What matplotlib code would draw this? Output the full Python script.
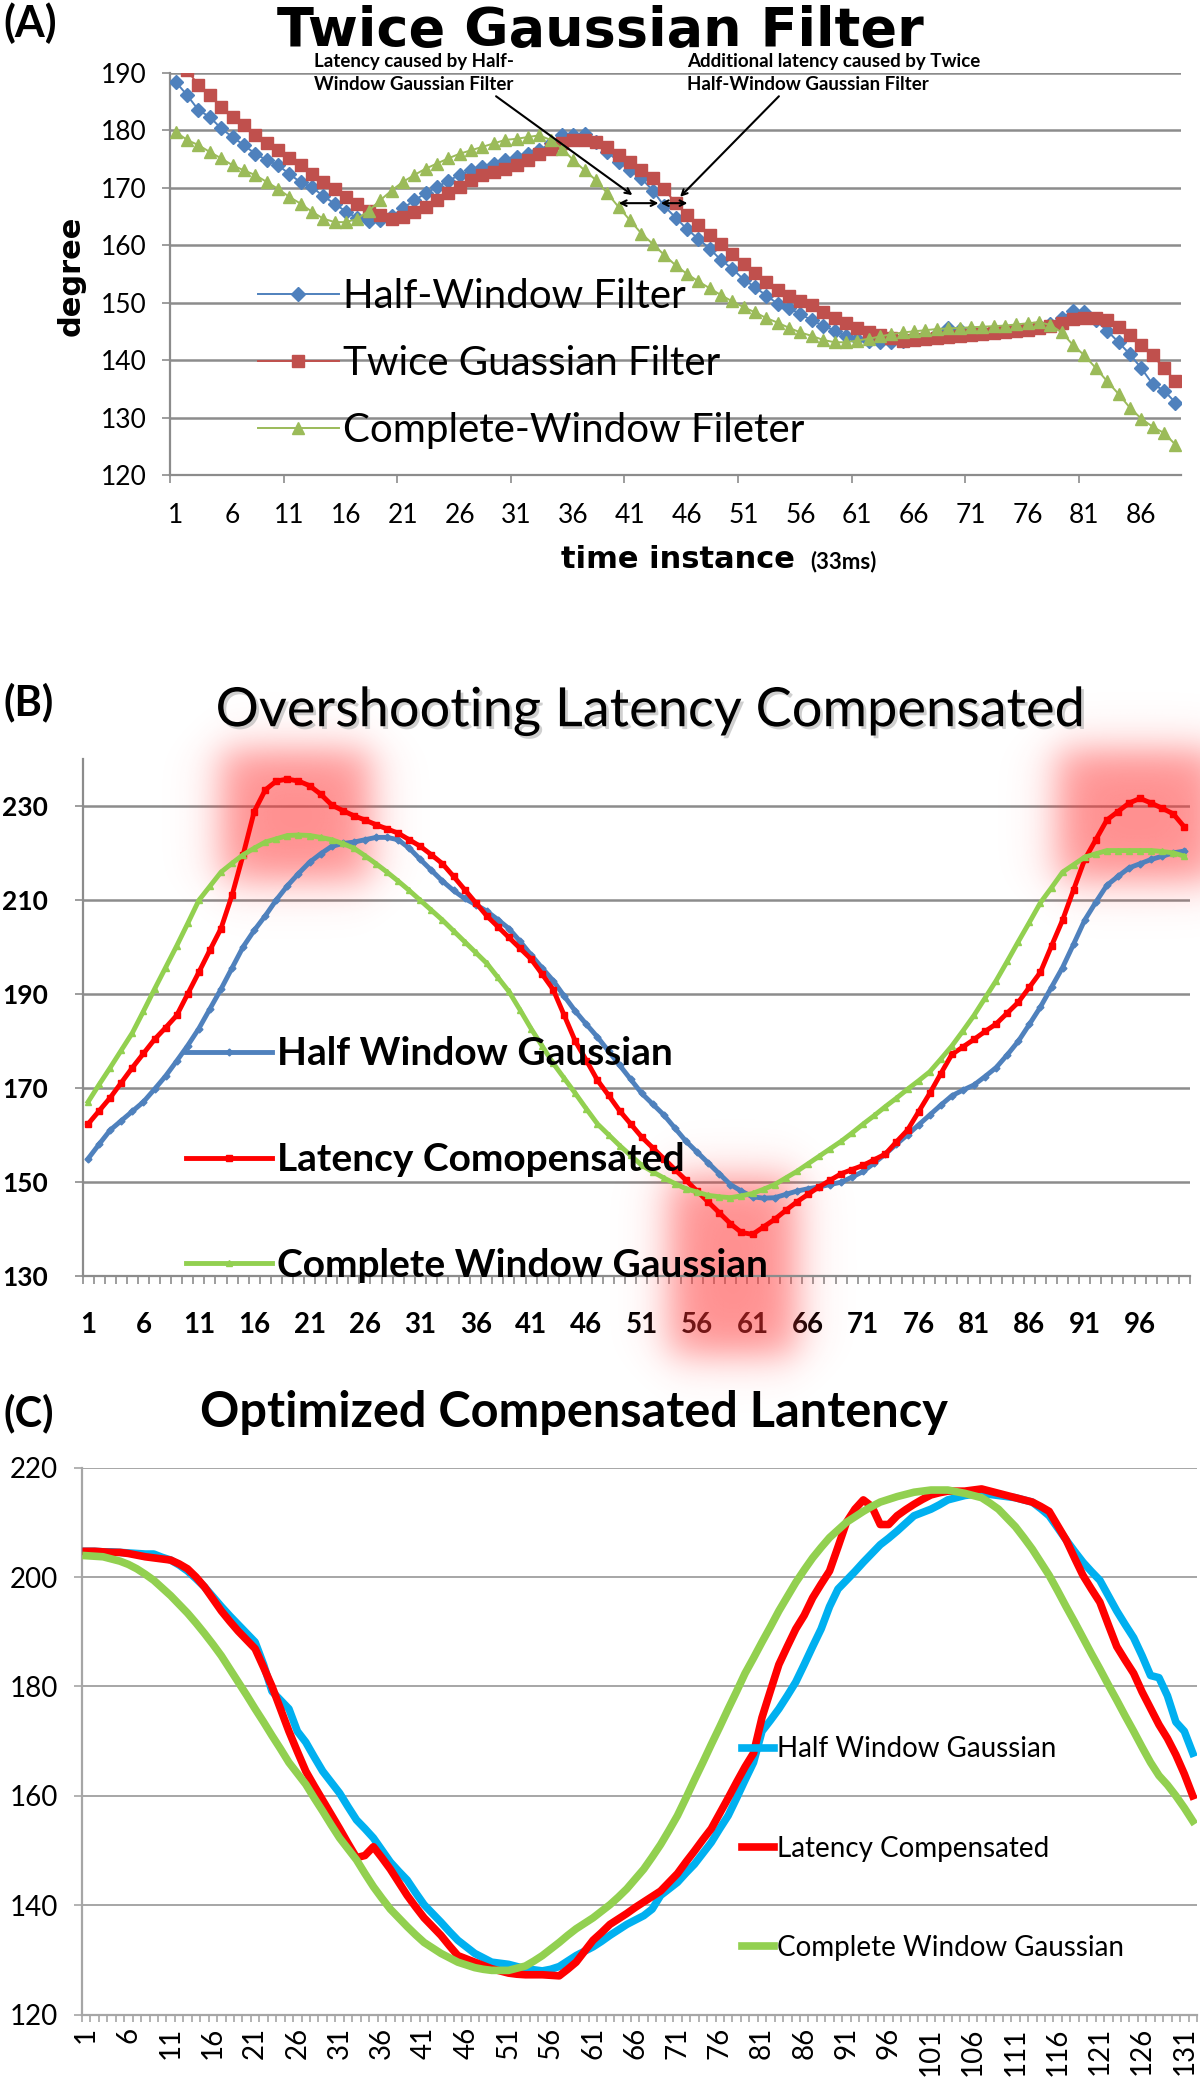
import matplotlib.pyplot as plt
import matplotlib.patheffects as pe
import numpy as np

plt.rcParams['font.family'] = ['Lato', 'DejaVu Sans']

# ---------------- data: panel A (Twice Gaussian Filter) ----------------
a_half = [188.4, 186.1, 183.5, 182.3, 180.3, 178.8, 177.4, 175.9, 174.8, 173.9,
          172.4, 170.9, 170.1, 168.5, 167.2, 165.8, 164.7, 164.2, 164.3, 165.0,
          166.4, 167.8, 169.0, 170.1, 171.2, 172.2, 173.0, 173.6, 174.2, 174.8,
          175.3, 175.9, 176.5, 177.7, 179.1, 179.1, 179.4, 178.0, 176.2, 174.5,
          173.0, 171.6, 169.5, 166.8, 164.8, 162.8, 161.1, 159.4, 157.4, 155.9,
          154.0, 152.7, 151.2, 149.8, 149.0, 148.0, 146.9, 146.0, 145.1, 144.2,
          143.7, 143.4, 143.1, 143.2, 143.4, 143.7, 144.0, 144.6, 145.6, 145.3,
          145.0, 145.0, 145.1, 145.2, 145.4, 145.6, 145.9, 146.3, 147.4, 148.5,
          148.3, 146.9, 145.1, 143.1, 141.0, 138.6, 135.8, 134.7, 132.6]
a_twice = [193.5, 190.5, 187.8, 186.1, 184.1, 182.3, 180.9, 179.1, 177.7, 176.5,
           175.1, 173.9, 172.4, 171.0, 169.8, 168.4, 167.2, 166.0, 165.2, 164.6,
           164.9, 165.8, 166.6, 167.8, 169.0, 170.1, 171.3, 172.2, 172.7, 173.3,
           173.9, 174.8, 175.9, 176.8, 177.7, 178.3, 178.3, 178.0, 177.1, 175.6,
           174.5, 173.0, 171.6, 169.8, 167.3, 165.2, 163.5, 161.7, 160.2, 158.5,
           156.8, 155.2, 153.6, 152.2, 151.2, 150.3, 149.5, 148.4, 147.3, 146.4,
           145.5, 144.9, 144.3, 143.8, 143.4, 143.5, 143.7, 143.9, 144.0, 144.2,
           144.3, 144.5, 144.7, 144.9, 145.0, 145.2, 145.5, 145.9, 146.5, 147.2,
           147.4, 147.4, 147.0, 145.7, 144.3, 142.7, 140.8, 138.6, 136.4]
a_complete = [179.7, 178.3, 177.4, 176.2, 175.1, 173.9, 173.0, 172.2, 171.0, 169.8,
              168.4, 167.2, 165.8, 164.6, 164.0, 164.0, 164.6, 166.0, 167.8, 169.5,
              171.0, 172.2, 173.3, 174.2, 175.1, 175.9, 176.5, 177.1, 177.7, 178.3,
              178.5, 178.8, 179.1, 178.3, 176.8, 174.8, 173.0, 171.3, 169.0, 166.6,
              164.3, 162.0, 160.2, 158.3, 156.5, 155.0, 153.7, 152.5, 151.3, 150.2,
              149.2, 148.3, 147.3, 146.5, 145.6, 144.8, 144.2, 143.5, 143.1, 143.1,
              143.4, 143.7, 144.1, 144.5, 144.8, 145.0, 145.2, 145.4, 145.5, 145.6,
              145.7, 145.8, 145.9, 146.0, 146.2, 146.4, 146.6, 146.1, 144.8, 142.6,
              140.8, 138.6, 136.3, 134.1, 131.7, 129.8, 128.4, 127.3, 125.3]
a_names = ['Half-Window Filter', 'Twice Guassian Filter', 'Complete-Window Fileter']

# ---------------- data: panel B (Overshooting Latency Compensated) ----------------
b_half = [154.9, 158.0, 161.0, 163.0, 165.0, 167.0, 169.7, 172.5, 175.7, 179.0,
          182.6, 186.8, 191.0, 195.5, 200.0, 203.5, 206.6, 210.0, 213.0, 215.6,
          218.0, 219.8, 221.4, 222.0, 222.3, 222.8, 223.3, 223.3, 222.8, 221.0,
          218.6, 216.3, 214.0, 212.0, 210.3, 209.0, 207.6, 205.8, 203.9, 201.2,
          198.3, 195.5, 192.8, 189.5, 186.3, 183.5, 180.8, 177.8, 174.8, 171.8,
          168.8, 166.5, 164.2, 161.4, 158.6, 156.3, 154.0, 151.7, 149.4, 148.0,
          146.8, 146.5, 146.6, 147.3, 148.0, 148.5, 148.9, 149.4, 149.9, 151.0,
          152.2, 154.0, 155.9, 158.0, 160.0, 162.1, 164.2, 166.3, 168.3, 169.5,
          170.6, 172.4, 174.3, 177.0, 179.9, 183.5, 187.2, 191.4, 195.6, 200.6,
          205.7, 209.5, 213.1, 215.0, 216.8, 217.7, 218.6, 219.3, 220.0, 220.4]
b_latency = [162.3, 165.1, 167.9, 171.1, 174.3, 177.3, 180.3, 182.8, 185.4, 190.0,
             194.6, 199.3, 203.9, 211.0, 219.6, 228.8, 233.4, 235.3, 235.7, 235.3,
             234.3, 232.5, 230.2, 229.0, 227.9, 227.0, 226.0, 225.1, 224.2, 222.8,
             221.4, 219.6, 217.7, 215.0, 212.2, 209.4, 206.6, 204.3, 202.0, 199.7,
             197.4, 194.2, 190.9, 185.4, 179.9, 175.8, 171.6, 168.4, 165.1, 162.3,
             159.5, 157.2, 154.9, 152.6, 150.3, 148.0, 145.7, 143.4, 141.1, 139.2,
             138.8, 140.4, 142.0, 143.9, 145.7, 147.3, 148.9, 150.3, 151.7, 152.6,
             153.5, 154.7, 155.9, 158.5, 161.0, 164.9, 168.8, 173.0, 177.1, 178.7,
             180.3, 182.0, 183.6, 185.9, 188.2, 191.4, 194.6, 200.2, 205.7, 212.2,
             218.6, 222.8, 227.0, 228.8, 230.6, 231.6, 230.6, 229.5, 228.3, 225.5]
b_complete = [167.0, 170.7, 174.3, 178.0, 181.7, 186.3, 191.0, 195.6, 200.2, 205.0,
              209.9, 212.9, 215.9, 217.8, 219.6, 221.0, 222.3, 223.0, 223.7, 223.8,
              223.7, 223.3, 222.8, 222.0, 221.0, 219.4, 217.7, 215.9, 214.0, 212.0,
              209.9, 207.8, 205.7, 203.4, 201.1, 198.8, 196.5, 193.5, 190.5, 186.6,
              182.6, 178.9, 175.2, 172.0, 168.8, 165.5, 162.3, 160.0, 157.7, 155.6,
              153.5, 152.1, 150.8, 149.6, 148.5, 147.8, 147.1, 146.8, 146.6, 147.0,
              147.5, 148.4, 149.4, 150.8, 152.2, 153.8, 155.4, 157.0, 158.6, 160.4,
              162.3, 164.1, 166.0, 167.8, 169.7, 171.5, 173.4, 176.1, 178.9, 182.1,
              185.4, 189.1, 192.8, 196.9, 201.1, 205.2, 209.4, 212.6, 215.9, 217.5,
              219.1, 219.8, 220.5, 220.5, 220.5, 220.5, 220.5, 220.3, 220.0, 219.3]
b_names = ['Half Window Gaussian', 'Latency Comopensated', 'Complete Window Gaussian']

# ---------------- data: panel C (Optimized Compensated Lantency) ----------------
c_half = [204.7, 204.7, 204.6, 204.6, 204.5, 204.4, 204.3, 204.2, 204.2, 203.6,
          203.1, 202.2, 201.1, 199.7, 198.2, 196.4, 194.6, 192.9, 191.3, 189.7,
          188.1, 184.0, 179.1, 177.5, 175.9, 171.8, 169.8, 167.1, 164.5, 162.5,
          160.5, 158.0, 155.6, 154.0, 152.3, 150.1, 147.9, 146.2, 144.6, 142.3,
          140.1, 138.5, 136.9, 135.2, 133.6, 132.4, 131.2, 130.4, 129.6, 129.4,
          129.2, 128.8, 128.4, 128.2, 128.0, 128.3, 128.8, 129.8, 130.8, 131.6,
          132.4, 133.4, 134.5, 135.5, 136.5, 137.3, 138.1, 139.3, 141.8, 143.0,
          144.2, 145.9, 147.5, 149.5, 151.5, 154.0, 156.4, 159.6, 162.9, 166.1,
          171.8, 173.8, 175.9, 178.3, 180.8, 184.0, 187.3, 190.5, 194.6, 197.8,
          199.4, 201.0, 202.7, 204.3, 205.9, 207.1, 208.4, 209.8, 211.2, 211.8,
          212.4, 213.2, 214.1, 214.5, 214.9, 215.1, 215.3, 215.1, 214.9, 214.7,
          214.5, 214.1, 213.7, 212.5, 211.2, 209.0, 206.8, 204.7, 202.7, 201.0,
          199.4, 196.6, 193.8, 191.3, 188.9, 185.6, 182.0, 181.6, 178.3, 173.5,
          171.8, 167.8]
c_latency = [204.7, 204.7, 204.6, 204.5, 204.5, 204.3, 204.0, 203.7, 203.5, 203.3,
             203.1, 202.4, 201.5, 200.0, 198.2, 196.0, 193.8, 191.9, 190.1, 188.5,
             186.9, 183.5, 180.0, 175.9, 171.8, 168.1, 164.5, 161.8, 159.2, 156.6,
             154.0, 151.3, 148.7, 149.1, 150.7, 148.7, 146.6, 144.2, 141.8, 139.7,
             137.7, 136.1, 134.5, 132.6, 130.8, 130.2, 129.6, 129.0, 128.4, 128.0,
             127.6, 127.4, 127.3, 127.3, 127.3, 127.2, 127.1, 128.3, 129.6, 131.6,
             133.6, 135.0, 136.5, 137.5, 138.5, 139.6, 140.6, 141.6, 142.6, 144.2,
             145.8, 147.9, 149.9, 152.0, 154.0, 156.8, 159.6, 162.5, 165.3, 167.8,
             174.3, 179.2, 184.0, 187.3, 190.5, 193.0, 196.2, 198.7, 201.1, 205.5,
             210.0, 212.4, 214.1, 212.9, 209.6, 209.6, 211.2, 212.3, 213.3, 214.2,
             215.0, 215.4, 215.7, 215.7, 215.7, 215.9, 216.1, 215.7, 215.3, 214.9,
             214.5, 214.1, 213.7, 212.9, 212.0, 209.4, 206.8, 203.5, 200.3, 197.8,
             195.4, 191.3, 187.3, 184.8, 182.4, 179.0, 176.0, 173.0, 170.5, 167.5,
             164.0, 160.0]
c_complete = [203.9, 203.8, 203.7, 203.3, 202.9, 202.3, 201.5, 200.5, 199.4, 198.0,
              196.6, 195.0, 193.4, 191.6, 189.7, 187.7, 185.6, 183.2, 180.8, 178.4,
              175.9, 173.5, 171.0, 168.6, 166.1, 164.1, 162.1, 159.6, 157.2, 154.7,
              152.3, 150.3, 148.3, 145.8, 143.4, 141.3, 139.3, 137.7, 136.1, 134.6,
              133.2, 132.2, 131.2, 130.4, 129.6, 129.1, 128.6, 128.3, 128.1, 128.1,
              128.1, 128.5, 128.9, 129.8, 130.8, 132.0, 133.2, 134.5, 135.7, 136.7,
              137.7, 138.9, 140.1, 141.5, 143.0, 144.8, 146.6, 148.8, 151.1, 153.7,
              156.4, 159.6, 162.9, 166.1, 169.4, 172.6, 175.9, 179.1, 182.4, 185.2,
              188.1, 190.9, 193.8, 196.4, 199.0, 201.3, 203.5, 205.4, 207.2, 208.6,
              210.0, 211.0, 212.0, 212.9, 213.7, 214.2, 214.7, 215.1, 215.5, 215.7,
              215.9, 215.9, 215.9, 215.6, 215.3, 214.9, 214.5, 213.5, 212.4, 210.8,
              209.2, 207.2, 205.1, 202.7, 200.3, 197.5, 194.6, 191.8, 188.9, 186.0,
              183.2, 180.3, 177.5, 174.6, 171.8, 168.9, 166.1, 163.7, 162.0, 160.0,
              157.8, 155.4]
c_names = ['Half Window Gaussian', 'Latency Compensated', 'Complete Window Gaussian']

GRID = '#8c8c8c'


def excel_axes(ax, n, step_label, grid_color, minor_every):
    ax.set_xlim(0.5, n + 0.5)
    for s in ['top', 'right']:
        ax.spines[s].set_visible(False)
    for s in ['left', 'bottom']:
        ax.spines[s].set_color(grid_color)
        ax.spines[s].set_linewidth(1.6)
    ax.yaxis.grid(True, color=grid_color, lw=1.8)
    ax.set_axisbelow(True)
    ax.set_xticks(np.arange(1, n + 1, step_label))
    ax.set_xticks(np.arange(0.5, n + 0.6, minor_every), minor=True)
    ax.tick_params(axis='x', which='major', length=0)
    ax.tick_params(axis='x', which='minor', length=6, width=1.2, color=grid_color)
    ax.tick_params(axis='y', length=6, width=1.2, color=grid_color)


def glow(ax, x0, x1, y0, y1, sx, sy):
    # soft red highlight patch (decoration, like the blurred marks in the source figure)
    xs = np.linspace(x0 - 3 * sx, x1 + 3 * sx, 240)
    ys = np.linspace(y0 - 3 * sy, y1 + 3 * sy, 240)
    gx = 0.5 * (np.tanh((xs - x0) / sx) - np.tanh((xs - x1) / sx))
    gy = 0.5 * (np.tanh((ys - y0) / sy) - np.tanh((ys - y1) / sy))
    img = np.zeros((len(ys), len(xs), 4))
    img[..., 0] = 1.0
    img[..., 1] = 0.2
    img[..., 2] = 0.2
    img[..., 3] = 0.55 * np.outer(gy, gx)
    ax.imshow(img, extent=[xs[0], xs[-1], ys[0], ys[-1]], origin='lower',
              aspect='auto', zorder=1.5, clip_on=False, interpolation='bilinear')


fig = plt.figure(figsize=(12, 20.77), dpi=100)

# ================= (A) =================
axA = fig.add_axes([0.1417, 0.7713, 0.8425, 0.1937])
nA = len(a_half)
xa = np.arange(1, nA + 1)
excel_axes(axA, nA, 5, GRID, 10)
axA.set_ylim(120, 190)
axA.set_yticks(np.arange(120, 191, 10))
axA.plot(xa, a_half, color='#4F81BD', marker='D', ms=7.5, lw=1.4, label=a_names[0], zorder=3)
axA.plot(xa, a_twice, color='#C0504D', marker='s', ms=8.5, lw=1.4, label=a_names[1], zorder=3)
axA.plot(xa, a_complete, color='#9BBB59', marker='^', ms=9, lw=1.4, label=a_names[2], zorder=3)
axA.tick_params(axis='x', which='major', labelsize=19, pad=20)
axA.tick_params(axis='y', labelsize=19, pad=11)
axA.legend(loc='upper left', bbox_to_anchor=(0.087, 0.49), frameon=False, fontsize=29,
           handlelength=2.0, handletextpad=0.1, labelspacing=0.75, borderpad=0,
           borderaxespad=0, numpoints=1)

axA.text(13.2, 193.4, 'Latency caused by Half-\nWindow Gaussian Filter', fontsize=13.5,
         fontweight='bold', va='top', ha='left', linespacing=1.4, clip_on=False)
axA.text(46.05, 193.4, 'Additional latency caused by Twice\nHalf-Window Gaussian Filter',
         fontsize=13.5, fontweight='bold', va='top', ha='left', linespacing=1.4, clip_on=False)
arw = dict(arrowstyle='->', color='black', lw=1.5, shrinkA=0, shrinkB=0)
axA.annotate('', xy=(41.2, 168.7), xytext=(29.2, 185.9), arrowprops=arw)
axA.annotate('', xy=(45.4, 168.4), xytext=(54.1, 185.9), arrowprops=arw)
dbl = dict(arrowstyle='<->', color='black', lw=1.5, shrinkA=0, shrinkB=0)
axA.annotate('', xy=(43.5, 167.3), xytext=(40.0, 167.3), arrowprops=dbl)
axA.annotate('', xy=(46.05, 167.3), xytext=(43.7, 167.3), arrowprops=dbl)

fig.text(0.003, 0.999, '(A)', fontsize=31, fontweight='bold', ha='left', va='top')
fig.text(0.5, 0.978, 'Twice Gaussian Filter', family='DejaVu Sans', fontsize=39,
         fontweight='bold', ha='center', va='baseline')
fig.text(0.059, 0.867, 'degree', family='DejaVu Sans', fontsize=22, fontweight='bold',
         rotation=90, ha='center', va='center')
fig.text(0.565, 0.7304, 'time instance', family='DejaVu Sans', fontsize=22,
         fontweight='bold', ha='center', va='center')
fig.text(0.675, 0.7295, '(33ms)', fontsize=16, fontweight='bold', ha='left', va='center')

# ================= (B) =================
axB = fig.add_axes([0.0688, 0.3858, 0.9228, 0.2488])
nB = len(b_half)
xb = np.arange(1, nB + 1)
excel_axes(axB, nB, 5, GRID, 1)
glow(axB, 13, 26.5, 214, 242, 2.2, 5)
glow(axB, 53.5, 65, 113, 151, 2.2, 5)
glow(axB, 88.5, 103, 214, 242, 2.2, 5)
axB.plot(xb, b_half, color='#4F81BD', marker='D', ms=3.5, lw=3.5, label=b_names[0], zorder=3)
axB.plot(xb, b_latency, color='#FF0000', marker='s', ms=5, lw=3.5, label=b_names[1], zorder=3)
axB.plot(xb, b_complete, color='#92D050', marker='^', ms=4.5, lw=3.5, label=b_names[2], zorder=3)
axB.set_xlim(0.5, nB + 0.5)
axB.set_ylim(130, 240)
axB.set_yticks(np.arange(130, 231, 20))
axB.tick_params(axis='x', which='major', labelsize=20, pad=26)
axB.tick_params(axis='y', labelsize=19, pad=19)
for lab in axB.get_xticklabels() + axB.get_yticklabels():
    lab.set_fontweight('bold')
legB = axB.legend(loc='upper left', bbox_to_anchor=(0.0934, 0.463), frameon=False,
                  fontsize=28, handlelength=2.2, handletextpad=0.15, labelspacing=1.82,
                  borderpad=0, borderaxespad=0, numpoints=1)
for t in legB.get_texts():
    t.set_fontweight('bold')

fig.text(0.003, 0.6716, '(B)', fontsize=30, fontweight='bold', ha='left', va='top')
fig.text(0.5417, 0.6577, 'Overshooting Latency Compensated', fontsize=39,
         ha='center', va='center',
         path_effects=[pe.SimplePatchShadow(offset=(2, -2), shadow_rgbFace='#b0b0b0', alpha=0.6),
                       pe.Normal()])

# ================= (C) =================
axC = fig.add_axes([0.0683, 0.0300, 0.9292, 0.2634])
nC = len(c_half)
xc = np.arange(1, nC + 1)
excel_axes(axC, nC, 5, '#a6a6a6', 1)
axC.yaxis.grid(True, color='#a6a6a6', lw=1.4)
axC.set_ylim(120, 220)
axC.set_yticks(np.arange(120, 221, 20))
axC.plot(xc, c_half, color='#00B0F0', lw=5.5, label=c_names[0], zorder=3)
axC.plot(xc, c_latency, color='#FF0000', lw=5.5, label=c_names[1], zorder=3)
axC.plot(xc, c_complete, color='#92D050', lw=5.5, label=c_names[2], zorder=3)
axC.tick_params(axis='x', which='major', labelsize=20, pad=9, labelrotation=90)
axC.tick_params(axis='x', which='minor', length=5)
axC.tick_params(axis='y', labelsize=20, pad=11)
axC.legend(loc='upper left', bbox_to_anchor=(0.592, 0.509), frameon=False, fontsize=20,
           handlelength=1.15, handletextpad=0.1, labelspacing=2.64, borderpad=0,
           borderaxespad=0)

fig.text(0.003, 0.3293, '(C)', fontsize=30, fontweight='bold', ha='left', va='top')
fig.text(0.478, 0.3197, 'Optimized Compensated Lantency', fontsize=35, fontweight='bold',
         ha='center', va='center')

fig.savefig('out.png', dpi=100)
